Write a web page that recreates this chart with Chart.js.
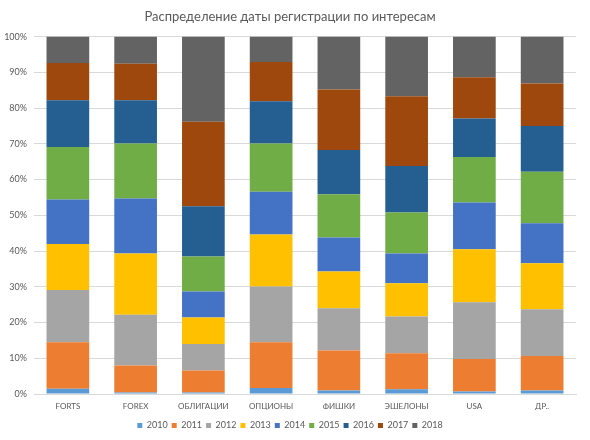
<!DOCTYPE html>
<html>
<head>
<meta charset="utf-8">
<script src="https://cdn.jsdelivr.net/npm/chart.js@4/dist/chart.umd.min.js"></script>
<style>
  html, body { margin: 0; padding: 0; background: #fff; }
  #wrap { width: 590px; height: 440px; }
</style>
</head>
<body>
<div id="wrap"><canvas id="myChart" width="590" height="440"></canvas></div>
<script>
const categories = ['FORTS', 'FOREX', 'ОБЛИГАЦИИ', 'ОПЦИОНЫ', 'ФИШКИ', 'ЭШЕЛОНЫ', 'USA', 'ДР..'];

// percentage share of each registration year per interest
const y2010 = [1.5, 0.4, 0.4, 1.7, 1.0, 1.3, 0.7, 1.0];
const y2011 = [13.0, 7.6, 6.2, 12.8, 11.2, 10.1, 9.1, 9.6];
const y2012 = [14.6, 14.2, 7.4, 15.6, 11.8, 10.3, 15.9, 13.1];
const y2013 = [12.9, 17.1, 7.4, 14.5, 10.3, 9.3, 14.8, 12.9];
const y2014 = [12.4, 15.4, 7.3, 12.0, 9.5, 8.3, 13.1, 11.2];
const y2015 = [14.7, 15.4, 9.8, 13.5, 12.1, 11.5, 12.7, 14.4];
const y2016 = [13.1, 12.1, 14.0, 11.8, 12.4, 13.0, 10.8, 12.8];
const y2017 = [10.4, 10.2, 23.7, 11.0, 16.9, 19.5, 11.5, 11.9];
const y2018 = [7.4, 7.6, 23.8, 7.1, 14.8, 16.7, 11.4, 13.1];

const yearLabels = ['2010', '2011', '2012', '2013', '2014', '2015', '2016', '2017', '2018'];
const yearValues = [y2010, y2011, y2012, y2013, y2014, y2015, y2016, y2017, y2018];
const yearColors = ['#5B9BD5', '#ED7D31', '#A5A5A5', '#FFC000', '#4472C4', '#70AD47', '#255E91', '#9E480E', '#636363'];

const ctx = document.getElementById('myChart');

let datasets = yearLabels.map(function (label, i) {
    return {
        label: label,
        data: yearValues[i],
        backgroundColor: yearColors[i],
        borderWidth: 0,
        barPercentage: 0.63,
        categoryPercentage: 1
    };
});

const fontFamily = "Lato, 'Open Sans', 'Liberation Sans', sans-serif";

const myChart = new Chart(ctx, {
    type: 'bar',
    data: {
        labels: categories,
        datasets: datasets
    },
    options: {
        responsive: false,
        animation: false,
        layout: {
            padding: { left: 4, right: 14, top: 0, bottom: 0 }
        },
        scales: {
            x: {
                stacked: true,
                grid: { display: false, drawTicks: false },
                border: { color: '#D9D9D9' },
                afterFit: function (scale) { scale.height = 23; },
                ticks: {
                    color: '#595959',
                    font: { family: fontFamily, size: 8 },
                    padding: 8,
                    maxRotation: 0
                }
            },
            y: {
                stacked: true,
                min: 0,
                max: 100,
                afterFit: function (scale) { scale.width = 30; },
                grid: { color: '#D9D9D9', drawTicks: false },
                border: { display: false },
                ticks: {
                    stepSize: 10,
                    color: '#595959',
                    padding: 7,
                    font: { family: fontFamily, size: 9 },
                    callback: function (v) { return v + '%'; }
                }
            }
        },
        plugins: {
            title: {
                display: true,
                text: 'Распределение даты регистрации по интересам',
                color: '#595959',
                font: { family: fontFamily, size: 13, weight: 'normal' },
                padding: { top: 9, bottom: 12 }
            },
            legend: {
                position: 'bottom',
                labels: {
                    color: '#595959',
                    boxWidth: 5,
                    boxHeight: 5,
                    padding: 4,
                    font: { family: fontFamily, size: 9 }
                }
            },
            tooltip: { enabled: false }
        }
    }
});
</script>
</body>
</html>
